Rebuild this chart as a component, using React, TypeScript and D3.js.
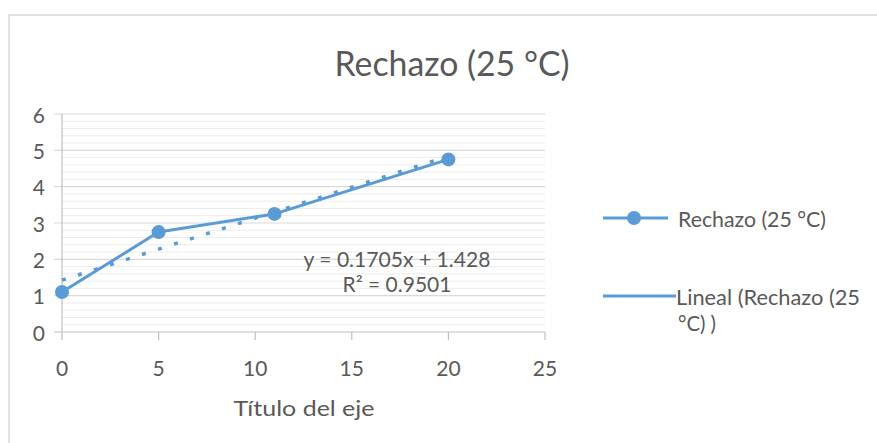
import React from "react";
import * as d3 from "d3";

const xValues = [0, 5, 11, 20];
const yValues = [1.1, 2.75, 3.25, 4.75];
const xTicks = [0, 5, 10, 15, 20, 25];
const yTicks = [0, 1, 2, 3, 4, 5, 6];
const titleText = "Rechazo (25 °C)";
const axisTitle = "Título del eje";
const seriesName = "Rechazo (25 °C)";
const trendName1 = "Lineal (Rechazo (25";
const trendName2 = "°C) )";

const W = 877;
const H = 443;
const COLOR = "#5B9BD5";
const TXT = "#595959";
const FONT = "Lato, 'Open Sans', sans-serif";

export default function App() {
  const x = d3.scaleLinear().domain([0, 25]).range([62, 545]);
  const y = d3.scaleLinear().domain([0, 6]).range([332, 114]);

  const mx = d3.mean(xValues)!;
  const my = d3.mean(yValues)!;
  const sxy = d3.sum(xValues.map((v, i) => (v - mx) * (yValues[i] - my)));
  const sxx = d3.sum(xValues.map((v) => (v - mx) ** 2));
  const slope = sxy / sxx;
  const intercept = my - slope * mx;
  const ssTot = d3.sum(yValues.map((v) => (v - my) ** 2));
  const ssRes = d3.sum(xValues.map((v, i) => (yValues[i] - (intercept + slope * v)) ** 2));
  const r2 = 1 - ssRes / ssTot;
  const xMin = d3.min(xValues)!;
  const xMax = d3.max(xValues)!;

  const minorTicks = d3.range(0, 6.0001, 0.2).filter((v) => Math.abs(v - Math.round(v)) > 1e-6);

  const line = d3
    .line<number>()
    .x((_, i) => x(xValues[i]))
    .y((d) => y(d));

  return (
    <svg
      width={W}
      height={H}
      style={{ position: "absolute", left: 0, top: 0, background: "#fff" }}
      fontFamily={FONT}
    >
      <rect x={9} y={15} width={W} height={H} fill="#fff" stroke="#d9d9d9" strokeWidth={1.5} />
      <text x={452} y={62} textAnchor="middle" dominantBaseline="central" fontSize={34} fill={TXT} textLength={235} lengthAdjust="spacingAndGlyphs">
        {titleText}
      </text>

      {minorTicks.map((t) => (
        <line key={"m" + t} x1={62} x2={545} y1={y(t)} y2={y(t)} stroke="#ececec" strokeWidth={1} />
      ))}
      {yTicks.map((t) => (
        <g key={"y" + t}>
          <line x1={54} x2={545} y1={y(t)} y2={y(t)} stroke={t === 0 ? "#bfbfbf" : "#d9d9d9"} strokeWidth={1.2} />
          <text x={45} y={y(t)} textAnchor="end" dominantBaseline="central" fontSize={21} fill={TXT}>
            {t}
          </text>
        </g>
      ))}
      <line x1={62} x2={62} y1={114} y2={332} stroke="#bfbfbf" strokeWidth={1.2} />
      {xTicks.map((t) => (
        <g key={"x" + t}>
          <line x1={x(t)} x2={x(t)} y1={332} y2={340} stroke="#bfbfbf" strokeWidth={1.2} />
          <text x={x(t)} y={367} textAnchor="middle" dominantBaseline="central" fontSize={21} fill={TXT}>
            {t}
          </text>
        </g>
      ))}
      <text x={304} y={407} textAnchor="middle" dominantBaseline="central" fontSize={22} fill={TXT} textLength={141} lengthAdjust="spacingAndGlyphs">
        {axisTitle}
      </text>

      <path d={line(yValues) ?? ""} fill="none" stroke={COLOR} strokeWidth={3} strokeLinejoin="round" />
      <line
        x1={x(xMin)}
        y1={y(intercept + slope * xMin)}
        x2={x(xMax)}
        y2={y(intercept + slope * xMax)}
        stroke={COLOR}
        strokeWidth={3.5}
        strokeDasharray="4 12.8"
      />
      {yValues.map((v, i) => (
        <circle key={"p" + i} cx={x(xValues[i])} cy={y(v)} r={7} fill={COLOR} />
      ))}

      <text x={397} y={258} textAnchor="middle" dominantBaseline="central" fontSize={21} fill={TXT} textLength={187} lengthAdjust="spacingAndGlyphs">
        {`y = ${slope.toFixed(4)}x + ${intercept.toFixed(3)}`}
      </text>
      <text x={397} y={283} textAnchor="middle" dominantBaseline="central" fontSize={21} fill={TXT} textLength={109} lengthAdjust="spacingAndGlyphs">
        {`R² = ${r2.toFixed(4)}`}
      </text>

      <line x1={603} x2={668} y1={218} y2={218} stroke={COLOR} strokeWidth={3} />
      <circle cx={634} cy={218} r={7} fill={COLOR} />
      <text x={678} y={218} dominantBaseline="central" fontSize={21} fill={TXT} textLength={148} lengthAdjust="spacingAndGlyphs">
        {seriesName}
      </text>
      <line x1={603} x2={676} y1={296} y2={296} stroke={COLOR} strokeWidth={3} />
      <text x={676} y={296} dominantBaseline="central" fontSize={21} fill={TXT} textLength={184} lengthAdjust="spacingAndGlyphs">
        {trendName1}
      </text>
      <text x={678} y={322} dominantBaseline="central" fontSize={21} fill={TXT} textLength={38} lengthAdjust="spacingAndGlyphs">
        {trendName2}
      </text>
    </svg>
  );
}
